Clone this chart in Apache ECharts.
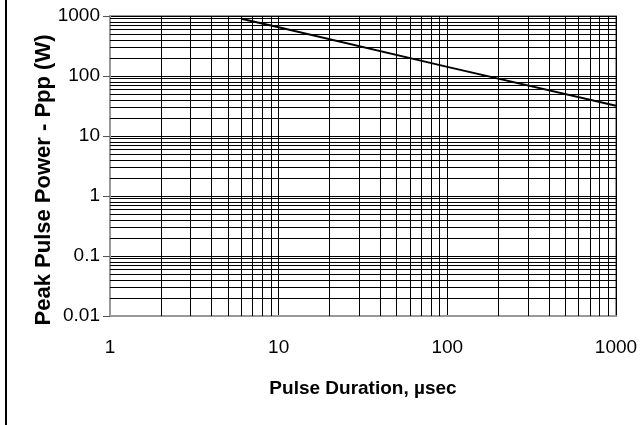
<!DOCTYPE html>
<html>
<head>
<meta charset="utf-8">
<script src="https://cdn.jsdelivr.net/npm/echarts@6/dist/echarts.min.js"></script>
<style>
html,body{margin:0;padding:0;background:#fff;}
#chart{width:644px;height:425px;}
</style>
</head>
<body>
<div id="chart"></div>
<script>
// Data
const pulseDuration = [6, 10, 100, 1000];      // µsec
const peakPower = [900, 650, 142, 32];         // W
const xTicks = [1, 10, 100, 1000];
const yTicks = [0.01, 0.1, 1, 10, 100, 1000];
const xMinor = [2,3,4,5,6,7,8,9,20,30,40,50,60,70,80,90,200,300,400,500,600,700,800,900];
const yMinor = [0.02,0.03,0.04,0.05,0.06,0.07,0.08,0.09,
                0.2,0.3,0.4,0.5,0.6,0.7,0.8,0.9,
                2,3,4,5,6,7,8,9,
                20,30,40,50,60,70,80,90,
                200,300,400,500,600,700,800,900];
const xTitle = 'Pulse Duration, µsec';
const yTitle = 'Peak Pulse Power - Ppp (W)';

const FONT = '"Liberation Sans", Arial, sans-serif';
const chart = echarts.init(document.getElementById('chart'), null, {renderer: 'canvas'});

const minorLines = xMinor.map(v => ({xAxis: v})).concat(yMinor.map(v => ({yAxis: v})));

chart.setOption({
  animation: false,
  backgroundColor: '#fff',
  graphic: [{
    type: 'rect', shape: {x: 5, y: 0, width: 2, height: 425},
    style: {fill: '#000'}, silent: true, z: 10
  }],
  grid: {
    left: 110, right: 28, top: 16, bottom: 109,
    show: true, borderColor: '#999', borderWidth: 2, backgroundColor: 'transparent'
  },
  xAxis: {
    type: 'log', logBase: 10, min: xTicks[0], max: xTicks[xTicks.length - 1],
    name: xTitle, nameLocation: 'middle', nameGap: 63, nameMoveOverlap: false,
    nameTextStyle: {fontFamily: FONT, fontSize: 19, fontWeight: 'bold', color: '#000'},
    axisLine: {show: true, lineStyle: {color: '#999', width: 2}},
    axisTick: {show: false},
    axisLabel: {
      fontFamily: FONT, fontSize: 19, color: '#000', margin: 22,
      formatter: v => String(v)
    },
    splitLine: {show: true, lineStyle: {color: '#000', width: 1}}
  },
  yAxis: {
    type: 'log', logBase: 10, min: yTicks[0], max: yTicks[yTicks.length - 1],
    name: yTitle, nameLocation: 'middle', nameGap: 55, nameMoveOverlap: false,
    nameTextStyle: {fontFamily: FONT, fontSize: 22, fontWeight: 'bold', color: '#000', padding: [0, 28, 0, 0]},
    axisLine: {show: true, lineStyle: {color: '#999', width: 2}},
    axisTick: {show: true, length: 7, lineStyle: {color: '#555', width: 1}},
    axisLabel: {
      fontFamily: FONT, fontSize: 19, color: '#000', margin: 10,
      formatter: v => {
        const m = yTicks.find(t => Math.abs(t - v) / t < 1e-6);
        return m !== undefined ? String(m) : String(v);
      }
    },
    splitLine: {show: true, lineStyle: {color: '#000', width: 1}}
  },
  series: [{
    type: 'line',
    data: pulseDuration.map((x, i) => [x, peakPower[i]]),
    showSymbol: false,
    symbol: 'none',
    lineStyle: {color: '#000', width: 2},
    z: 5,
    markLine: {
      silent: true,
      symbol: ['none', 'none'],
      label: {show: false},
      emphasis: {disabled: true},
      lineStyle: {color: '#000', width: 1, type: 'solid'},
      data: minorLines,
      z: 1
    }
  }]
});
</script>
</body>
</html>
